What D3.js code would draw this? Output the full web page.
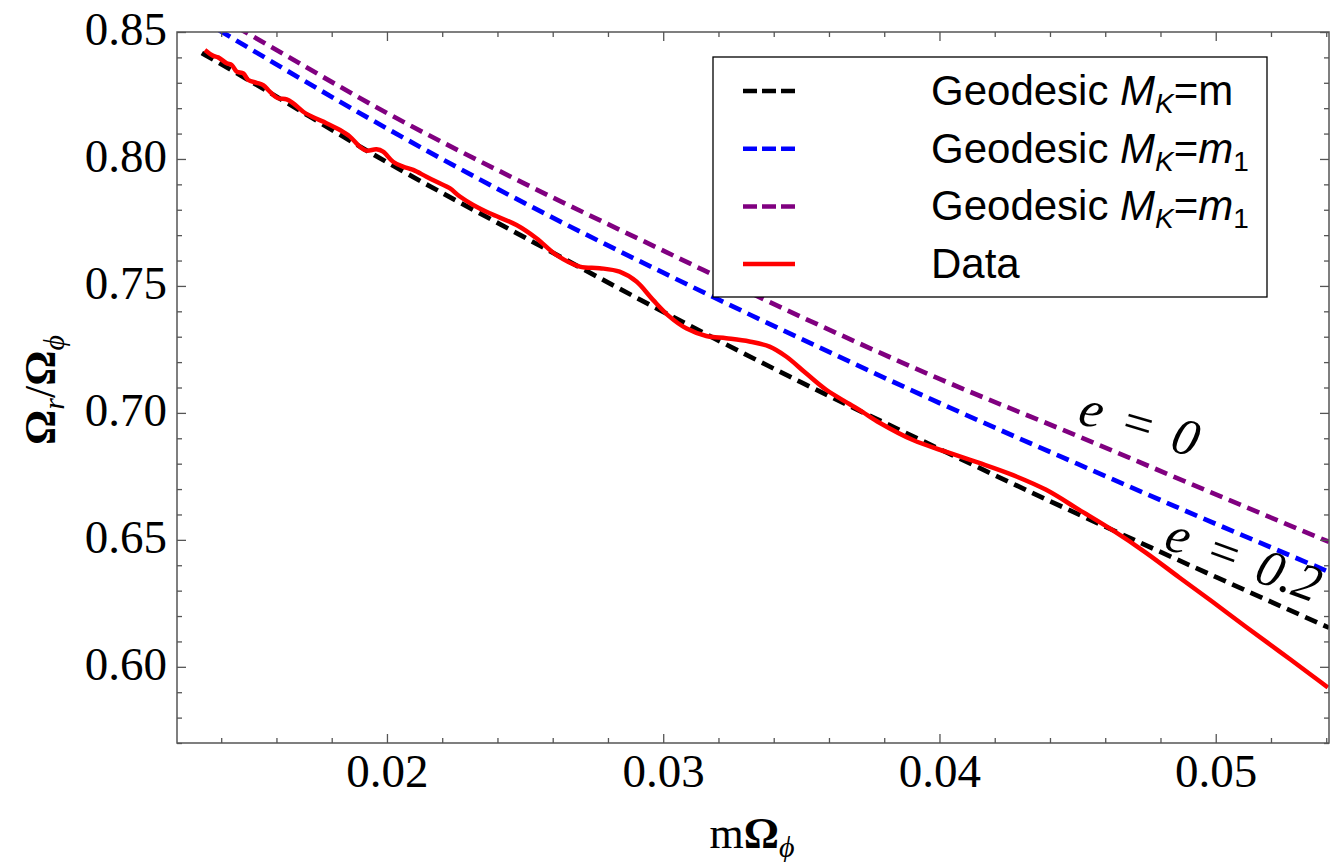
<!DOCTYPE html>
<html>
<head>
<meta charset="utf-8">
<script src="https://cdn.jsdelivr.net/npm/d3@7"></script>
<style>
  html, body { margin: 0; padding: 0; background: #fff; }
  #chart { width: 1330px; height: 862px; }
  svg text { font-family: "Liberation Serif", "Times New Roman", serif; fill: #000; }
</style>
</head>
<body>
<div id="chart"></div>
<script>
// geodesic curves, sampled at the same x positions
const geoX      = [0.0133, 0.015, 0.02, 0.025, 0.03, 0.035, 0.04, 0.045, 0.05, 0.0541];
const geoBlack  = [0.8417, 0.8310, 0.7987, 0.7690, 0.7398, 0.7120, 0.6858, 0.6602, 0.6354, 0.6154];
const geoBlue   = [0.8548, 0.8437, 0.8120, 0.7825, 0.7552, 0.7291, 0.7039, 0.6799, 0.6563, 0.6374];
const geoPurple = [0.8597, 0.8492, 0.8181, 0.7902, 0.7639, 0.7378, 0.7134, 0.6909, 0.6679, 0.6492];

// the red "Data" curve
const dataX = [0.01341, 0.01371, 0.01389, 0.01420, 0.01438, 0.01456, 0.01480, 0.01498, 0.01528, 0.01552,
               0.01576, 0.01606, 0.01637, 0.01661, 0.01697, 0.01733, 0.01781, 0.01830, 0.01866, 0.01902,
               0.01926, 0.01962, 0.01986, 0.02022, 0.02058, 0.02095, 0.02143, 0.02191, 0.02227, 0.02264,
               0.02312, 0.02372, 0.02469, 0.02541, 0.02613, 0.02698, 0.02770, 0.02842, 0.02903, 0.02963,
               0.03023, 0.03083, 0.03156, 0.03228, 0.03312, 0.03385, 0.03445, 0.03517, 0.03590, 0.03674,
               0.03721, 0.03783, 0.03902, 0.04025, 0.04144, 0.04264, 0.04386, 0.04506, 0.04625, 0.04748,
               0.04867, 0.04987, 0.05110, 0.05229, 0.05348, 0.05406];
const dataY = [0.8429, 0.8406, 0.8400, 0.8377, 0.8370, 0.8344, 0.8337, 0.8311, 0.8300, 0.8291,
               0.8265, 0.8239, 0.8235, 0.8219, 0.8186, 0.8164, 0.8141, 0.8114, 0.8088, 0.8048,
               0.8033, 0.8038, 0.8029, 0.7989, 0.7970, 0.7957, 0.7930, 0.7904, 0.7885, 0.7852,
               0.7819, 0.7786, 0.7740, 0.7688, 0.7622, 0.7576, 0.7570, 0.7556, 0.7517, 0.7445,
               0.7379, 0.7333, 0.7303, 0.7294, 0.7281, 0.7261, 0.7222, 0.7156, 0.7091, 0.7035,
               0.7004, 0.6961, 0.6894, 0.6846, 0.6803, 0.6756, 0.6697, 0.6618, 0.6539, 0.6449,
               0.6353, 0.6257, 0.6157, 0.6062, 0.5966, 0.5919];

// axis ticks
const xMajorTicks = [0.02, 0.03, 0.04, 0.05];
const xMinorTicks = [0.014, 0.016, 0.018, 0.022, 0.024, 0.026, 0.028, 0.032, 0.034, 0.036, 0.038,
                     0.042, 0.044, 0.046, 0.048, 0.052, 0.054];
const yMajorTicks = [0.60, 0.65, 0.70, 0.75, 0.80, 0.85];
const yMinorTicks = [0.57, 0.58, 0.59, 0.61, 0.62, 0.63, 0.64, 0.66, 0.67, 0.68, 0.69, 0.71, 0.72, 0.73, 0.74,
                     0.76, 0.77, 0.78, 0.79, 0.81, 0.82, 0.83, 0.84];

// in-plot labels, anchored at data coordinates
const annotations = [
    {text: "0",   x: 0.04495, y: 0.6961, angle: 16.5},
    {text: "0.2", x: 0.04806, y: 0.6469, angle: 20}
];

function FreqPlot() {

    let self = this;

    self.initialize = function() {
        self.el = document.getElementById("chart");
        self.margin = {top: 32, right: 1, bottom: 119, left: 177};
        self.graphWidth = 1330;
        self.graphHeight = 862;
        self.width = self.graphWidth - self.margin.left - self.margin.right;
        self.height = self.graphHeight - self.margin.top - self.margin.bottom;

        self.x = d3.scaleLinear().domain([0.0124, 0.0541]).range([0, self.width]);
        self.y = d3.scaleLinear().domain([0.57, 0.85]).range([self.height, 0]);

        self.series = [
            {key: "black",  color: "#000000", dash: "13,7", pts: geoX.map((v, i) => [v, geoBlack[i]])},
            {key: "blue",   color: "#0000ff", dash: "13,7", pts: geoX.map((v, i) => [v, geoBlue[i]])},
            {key: "purple", color: "#800080", dash: "13,7", pts: geoX.map((v, i) => [v, geoPurple[i]])},
            {key: "data",   color: "#ff0000", dash: null,   pts: dataX.map((v, i) => [v, dataY[i]])}
        ];

        self.render();
    };

    self.render = function() {
        self.svg = d3.select(self.el).append("svg")
            .attr("width", self.graphWidth)
            .attr("height", self.graphHeight);

        self.g = self.svg.append("g")
            .attr("transform", "translate(" + self.margin.left + "," + self.margin.top + ")");

        self.g.append("clipPath").attr("id", "plotclip")
            .append("rect").attr("width", self.width).attr("height", self.height);

        self.renderLines();
        self.renderAnnotations();
        self.renderAxes();
        self.renderLegend();
    };

    self.renderLines = function() {
        let line = d3.line()
            .x(d => self.x(d[0]))
            .y(d => self.y(d[1]));

        let lines = self.g.append("g").attr("clip-path", "url(#plotclip)");

        self.series.forEach(function(s) {
            lines.append("path")
                .datum(s.pts)
                .attr("fill", "none")
                .attr("stroke", s.color)
                .attr("stroke-width", s.dash ? 4.7 : 4.5)
                .attr("stroke-dasharray", s.dash)
                .attr("d", line.curve(s.dash ? d3.curveMonotoneX : d3.curveCatmullRom)(s.pts));
        });
    };

    self.renderAnnotations = function() {
        annotations.forEach(function(a) {
            self.g.append("text")
                .attr("transform", "translate(" + self.x(a.x) + "," + self.y(a.y) + ") rotate(" + a.angle + ")")
                .style("font-size", "52px")
                .style("font-style", "italic")
                .style("word-spacing", "6px")
                .text("e = " + a.text);
        });
    };

    self.renderAxes = function() {
        let axisColor = "#555";
        let styleAxis = function(sel) {
            sel.select(".domain").remove();
            sel.selectAll(".tick line").attr("stroke", axisColor).attr("stroke-width", 1.3);
            sel.selectAll(".tick text").style("font-size", "47px").attr("fill", "#000");
        };

        // bottom
        self.g.append("g").attr("transform", "translate(0," + self.height + ")")
            .call(d3.axisBottom(self.x).tickValues(xMajorTicks).tickFormat(d3.format(".2f"))
                .tickSizeInner(-9).tickSizeOuter(0).tickPadding(11))
            .call(styleAxis);
        self.g.append("g").attr("transform", "translate(0," + self.height + ")")
            .call(d3.axisBottom(self.x).tickValues(xMinorTicks).tickFormat("").tickSizeInner(-5).tickSizeOuter(0))
            .call(styleAxis);
        // top
        self.g.append("g")
            .call(d3.axisTop(self.x).tickValues(xMajorTicks).tickFormat("").tickSizeInner(-9).tickSizeOuter(0))
            .call(styleAxis);
        self.g.append("g")
            .call(d3.axisTop(self.x).tickValues(xMinorTicks).tickFormat("").tickSizeInner(-5).tickSizeOuter(0))
            .call(styleAxis);
        // left
        self.g.append("g")
            .call(d3.axisLeft(self.y).tickValues(yMajorTicks).tickFormat(d3.format(".2f"))
                .tickSizeInner(-9).tickSizeOuter(0).tickPadding(10))
            .call(styleAxis)
            .selectAll(".tick text").attr("dy", "0.26em");
        self.g.append("g")
            .call(d3.axisLeft(self.y).tickValues(yMinorTicks).tickFormat("").tickSizeInner(-5).tickSizeOuter(0))
            .call(styleAxis);
        // right
        self.g.append("g").attr("transform", "translate(" + self.width + ",0)")
            .call(d3.axisRight(self.y).tickValues(yMajorTicks).tickFormat("").tickSizeInner(-9).tickSizeOuter(0))
            .call(styleAxis);
        self.g.append("g").attr("transform", "translate(" + self.width + ",0)")
            .call(d3.axisRight(self.y).tickValues(yMinorTicks).tickFormat("").tickSizeInner(-5).tickSizeOuter(0))
            .call(styleAxis);

        // frame
        self.g.append("rect")
            .attr("width", self.width).attr("height", self.height)
            .attr("fill", "none").attr("stroke", axisColor).attr("stroke-width", 1.5);

        // x label
        let xl = self.svg.append("text")
            .attr("x", 752).attr("y", 848)
            .attr("text-anchor", "middle")
            .style("font-size", "44px");
        xl.append("tspan").text("m");
        xl.append("tspan").style("font-weight", "bold").text("\u03A9");
        xl.append("tspan").attr("dy", 9).style("font-size", "30px").style("font-style", "italic").text("\u03D5");

        // y label
        let yl = self.svg.append("text")
            .attr("transform", "translate(55,390) rotate(-90)")
            .attr("text-anchor", "middle")
            .style("font-size", "44px");
        yl.append("tspan").style("font-weight", "bold").text("\u03A9");
        yl.append("tspan").attr("dy", 9).style("font-size", "30px").style("font-style", "italic").text("r");
        yl.append("tspan").attr("dy", -9).text("/");
        yl.append("tspan").style("font-weight", "bold").text("\u03A9");
        yl.append("tspan").attr("dy", 9).style("font-size", "30px").style("font-style", "italic").text("\u03D5");
    };

    self.renderLegend = function() {
        let lg = self.svg.append("g").attr("transform", "translate(713,57)");
        lg.append("rect")
            .attr("width", 554).attr("height", 240)
            .attr("fill", "#fff").attr("stroke", "#000").attr("stroke-width", 1.3);

        let rows = [
            {s: self.series[0], sub: "m"},
            {s: self.series[1], sub: "m1"},
            {s: self.series[2], sub: "m1"},
            {s: self.series[3], sub: null}
        ];

        rows.forEach(function(r, i) {
            let cy = 34 + i * 57.7;
            lg.append("line")
                .attr("x1", 30).attr("x2", 82).attr("y1", cy).attr("y2", cy)
                .attr("stroke", r.s.color)
                .attr("stroke-width", 4.5)
                .attr("stroke-dasharray", r.s.dash ? "14,5" : null);

            let t = lg.append("text")
                .attr("x", 218).attr("y", cy + 14)
                .style("font-family", "'Liberation Sans', Arial, sans-serif")
                .style("font-size", "42px");
            if (r.sub === null) {
                t.text("Data");
                return;
            }
            t.append("tspan").text("Geodesic ");
            t.append("tspan").style("font-style", "italic").text("M");
            t.append("tspan").attr("dy", 8).style("font-style", "italic").style("font-size", "28px").text("K");
            t.append("tspan").attr("dy", -8).text("=");
            if (r.sub === "m") {
                t.append("tspan").text("m");
            } else {
                t.append("tspan").style("font-style", "italic").text("m");
                t.append("tspan").attr("dy", 8).style("font-size", "28px").text("1");
            }
        });
    };
}

let plot = new FreqPlot();
plot.initialize();
</script>
</body>
</html>
